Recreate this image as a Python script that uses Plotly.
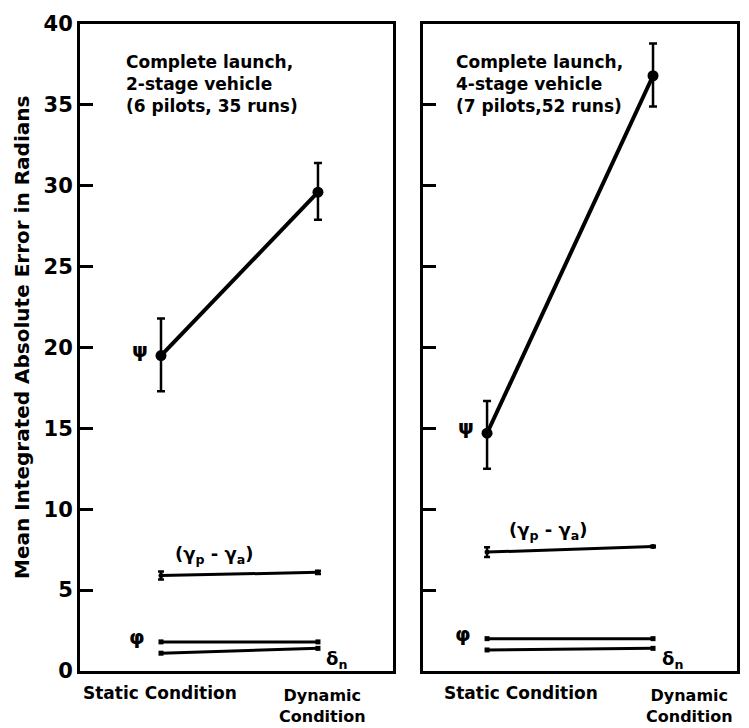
import plotly.graph_objects as go

conditions = [0, 1]  # 0 = Static Condition, 1 = Dynamic Condition

# Left panel: 2-stage vehicle
psi_2 = [19.5, 29.6]
psi_2_err_plus = [2.3, 1.8]
psi_2_err_minus = [2.2, 1.7]
gam_2 = [5.9, 6.1]
gam_2_err = [0.25, 0.1]
phi_2 = [1.8, 1.8]
dn_2 = [1.1, 1.4]

# Right panel: 4-stage vehicle
psi_4 = [14.7, 36.8]
psi_4_err_plus = [2.0, 2.0]
psi_4_err_minus = [2.2, 1.9]
gam_4 = [7.35, 7.7]
gam_4_err = [0.3, 0.05]
phi_4 = [2.0, 2.0]
dn_4 = [1.3, 1.4]

y_ticks = [0, 5, 10, 15, 20, 25, 30, 35, 40]

FONT = "DejaVu Sans"
fig = go.Figure()

def add_panel(xa, ya, psi, psp, psm, gam, game, phi, dn):
    fig.add_trace(go.Scatter(x=conditions, y=psi, mode="lines+markers",
        line=dict(color="black", width=4), marker=dict(size=11, color="black"),
        error_y=dict(type="data", symmetric=False, array=psp, arrayminus=psm,
                     color="black", thickness=2.5, width=4),
        xaxis=xa, yaxis=ya, showlegend=False))
    fig.add_trace(go.Scatter(x=conditions, y=gam, mode="lines+markers",
        line=dict(color="black", width=3), marker=dict(size=5, color="black"),
        error_y=dict(type="data", array=game, color="black", thickness=2.5, width=3),
        xaxis=xa, yaxis=ya, showlegend=False))
    fig.add_trace(go.Scatter(x=conditions, y=phi, mode="lines+markers",
        line=dict(color="black", width=3), marker=dict(size=5, color="black", symbol="square"),
        xaxis=xa, yaxis=ya, showlegend=False))
    fig.add_trace(go.Scatter(x=conditions, y=dn, mode="lines+markers",
        line=dict(color="black", width=3), marker=dict(size=5, color="black", symbol="square"),
        xaxis=xa, yaxis=ya, showlegend=False))

add_panel("x", "y", psi_2, psi_2_err_plus, psi_2_err_minus, gam_2, gam_2_err, phi_2, dn_2)
add_panel("x2", "y2", psi_4, psi_4_err_plus, psi_4_err_minus, gam_4, gam_4_err, phi_4, dn_4)

ydom = [1 - 671 / 728, 1 - 24 / 728]
common_y = dict(range=[0, 40], domain=ydom, tickvals=y_ticks, ticks="inside", ticklen=13,
                tickwidth=2.5, tickcolor="black", showline=True, linewidth=3,
                linecolor="black", mirror=True, showgrid=False, zeroline=False,
                automargin=False)
common_x = dict(showline=True, linewidth=3, linecolor="black", mirror=True,
                showgrid=False, zeroline=False, showticklabels=False, ticks="",
                automargin=False)

fig.update_layout(
    width=749, height=728, margin=dict(l=0, r=0, t=0, b=0, autoexpand=False),
    plot_bgcolor="white", paper_bgcolor="white",
    font=dict(family=FONT, color="black"),
    xaxis=dict(domain=[80 / 749, 393 / 749], range=[-0.516, 1.478], **common_x),
    xaxis2=dict(domain=[423 / 749, 737 / 749], range=[-0.386, 1.506], anchor="y2", **common_x),
    yaxis=dict(anchor="x", showticklabels=True,
               tickfont=dict(size=21, family=FONT, color="black", weight="bold"), **common_y),
    yaxis2=dict(anchor="x2", showticklabels=False, **common_y),
)

ann = []
def txt(text, x, y, xref, yref, size=17, xanchor="center", yanchor="middle", align="center", **kw):
    ann.append(dict(text=text, x=x, y=y, xref=xref, yref=yref, showarrow=False,
                    font=dict(size=size, family=FONT, color="black"),
                    xanchor=xanchor, yanchor=yanchor, align=align, **kw))

# Y axis title
txt("<b>Mean Integrated Absolute Error in Radians</b>", 22 / 749, 1 - 338 / 728, "paper", "paper",
    size=20, textangle=-90)

# Panel titles
txt("<b>Complete launch,<br>2-stage vehicle<br>(6 pilots, 35 runs)</b>", 124 / 749, 1 - 50 / 728,
    "paper", "paper", size=17, xanchor="left", yanchor="top", align="left")
txt("<b>Complete launch,<br>4-stage vehicle<br>(7 pilots,52 runs)</b>", 454 / 749, 1 - 50 / 728,
    "paper", "paper", size=17, xanchor="left", yanchor="top", align="left")

# X category labels
for xs, xd in [(160, 322), (521, 689)]:
    txt("<b>Static Condition</b>", xs / 749, 1 - 693 / 728, "paper", "paper", size=17)
    txt("<b>Dynamic<br>Condition</b>", xd / 749, 1 - 706 / 728, "paper", "paper", size=16)

# Series labels
for xr, yr, psi, gam, phi, dn in [("x", "y", psi_2, gam_2, phi_2, dn_2),
                                   ("x2", "y2", psi_4, gam_4, phi_4, dn_4)]:
    txt("<b>ψ</b>", conditions[0], psi[0], xr, yr, size=20, xshift=-21, yshift=6)
    txt("<b>(γ<sub>p</sub> - γ<sub>a</sub>)</b>", 0.34 if xr == "x" else 0.37, gam[0] + 1.3,
        xr, yr, size=18)
    txt("<b>φ</b>", conditions[0], phi[0] + 0.3, xr, yr, size=20, xshift=-24)
    txt("<b>δ<sub>n</sub></b>", conditions[1], dn[1] - 0.7, xr, yr, size=18, xshift=19)

fig.update_layout(annotations=ann)
fig.write_html("out.html", config={"displayModeBar": False},
               post_script="document.body.style.margin='0';document.body.style.overflow='hidden';")
